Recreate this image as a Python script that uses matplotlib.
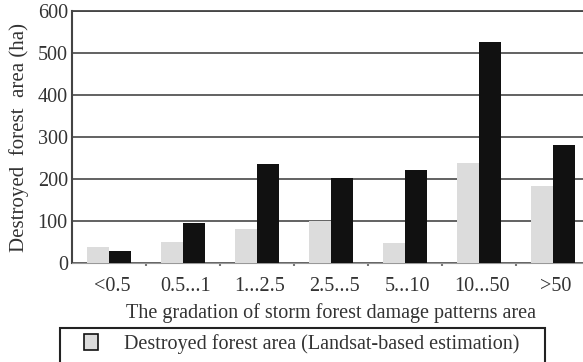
# encoding=utf-8
import numpy as np
import matplotlib
matplotlib.use("Agg")
import matplotlib.pyplot as plt
from matplotlib.patches import Rectangle, Patch

# data
categories = ['<0.5', '0.5...1', '1...2.5', '2.5...5', '5...10', '10...50', '>50']
landsat_area = [37, 51, 80, 100, 48, 238, 183]
black_area = [29, 96, 236, 202, 221, 526, 281]
y_ticks = [0, 100, 200, 300, 400, 500, 600]

plt.rcParams['font.family'] = ['Liberation Serif', 'DejaVu Serif']
text_color = '#333333'

fig = plt.figure(figsize=(5.83, 3.62), dpi=100)
ax = fig.add_axes([72 / 583, 99 / 362, 518 / 583, 252 / 362])

x = np.arange(len(categories))
w = 0.3
ax.bar(x - w / 2, landsat_area, width=w, color='#dcdcdc', zorder=3)
ax.bar(x + w / 2, black_area, width=w, color='#111111', zorder=3)

ax.set_xlim(-0.5, 6.5)
ax.set_ylim(0, 600)
ax.set_yticks(y_ticks)
ax.set_xticks(x + 0.04)
ax.set_xticklabels(categories)
ax.set_xticks(np.arange(0.5, 6, 1), minor=True)
ax.tick_params(axis='both', which='major', length=0, labelsize=14.5, colors=text_color)
ax.tick_params(axis='x', which='major', pad=10)
ax.tick_params(axis='y', which='major', pad=3)
ax.tick_params(axis='x', which='minor', length=2, width=1.5, color='#777777')

ax.yaxis.grid(True, color='#555555', linewidth=1.3, zorder=0)
ax.spines['left'].set_color('#444444')
ax.spines['left'].set_linewidth(1.5)
ax.spines['top'].set_color('#444444')
ax.spines['top'].set_linewidth(1.3)
ax.spines['bottom'].set_color('#999999')
ax.spines['right'].set_visible(False)

ax.set_xlabel('The gradation of storm forest damage patterns area', fontsize=14.5,
              color=text_color, labelpad=5)
ax.set_ylabel('Destroyed  forest  area (ha)', fontsize=15, color=text_color, labelpad=6)

# legend box (bottom runs past the figure edge)
fig.patches.append(Rectangle((60 / 583, -0.1), 485 / 583, 0.1 + 34 / 362,
                             transform=fig.transFigure, fill=False,
                             edgecolor='#222222', linewidth=1.5))
handle = Patch(facecolor='#dcdcdc', edgecolor='#111111', linewidth=1.2)
fig.legend([handle], ['Destroyed forest area (Landsat-based estimation)'],
           loc='center left', bbox_to_anchor=(66 / 583, 1 - 344 / 362),
           frameon=False, fontsize=14.5, handlelength=0.7, handleheight=0.8,
           handletextpad=1.3, labelcolor=text_color)

fig.savefig('out.png', dpi=100)
